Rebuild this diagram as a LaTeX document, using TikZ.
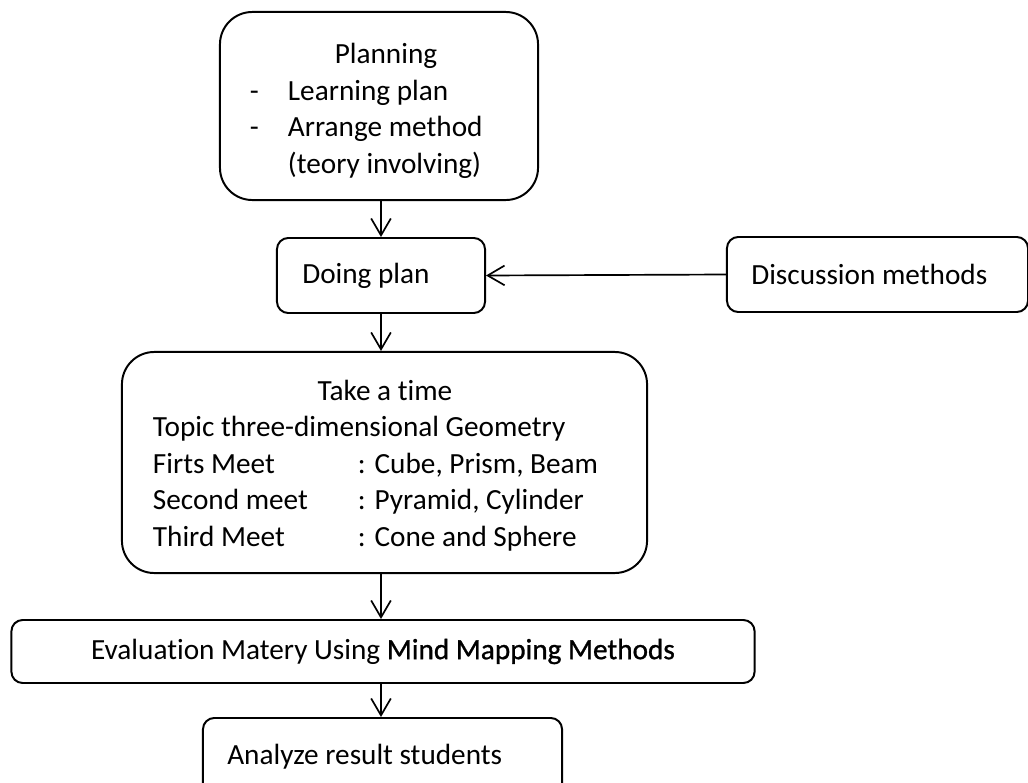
\documentclass[tikz,border=0pt]{standalone}
\usepackage{fontspec}
\setmainfont[Ligatures=NoCommon]{Carlito}
\newfontfamily\strongfont[Ligatures=NoCommon,FakeBold=1]{Carlito}
\usetikzlibrary{arrows.meta}
\usetikzlibrary{positioning}

\begin{document}
\begin{tikzpicture}[x=0.025cm,y=-0.025cm,
		box/.style={draw,line width=1.4pt,rounded corners=8pt,inner sep=0pt},
		bigbox/.style={draw,line width=1.4pt,rounded corners=23pt,inner sep=0pt},
		txt/.style={font=\fontsize{20.8}{26}\selectfont,inner sep=0pt},
		flow/.style={-{Straight Barb[length=12pt,width=14pt,line width=1.2pt]},line width=1.2pt}]
		\clip (0,0) rectangle (1028,783);
		% boxes
		\node[bigbox,minimum width=7.95cm,minimum height=4.7cm] (planning) at (379,106){};
		\node[txt] (planningtxt) at (386,111){%
			\begin{tabular}{@{}p{0.95cm}@{}p{5.85cm}@{}}
				\multicolumn{2}{@{}c@{}}{Planning}\\
				- & Learning plan\\
				- & Arrange method\\
				& (teory involving)
			\end{tabular}};
		\node[box,minimum width=5.2cm,minimum height=1.875cm] (doing) at (381,275.5){};
		\node[txt,anchor=west] (doingtxt) at ([xshift=0.65cm]doing.west){Doing plan};
		\node[box,minimum width=7.525cm,minimum height=1.875cm] (discuss) at (877.5,274.5){};
		\node[txt,anchor=west] (discusstxt) at ([xshift=0.625cm]discuss.west){Discussion methods};
		\node[bigbox,minimum width=13.125cm,minimum height=5.525cm] (take) at (384.5,462.5){};
		\node[txt] (taketxt) at (385,466){%
			\begin{tabular}{@{}p{5.125cm}@{}p{6.475cm}@{}}
				\multicolumn{2}{@{}c@{}}{Take a time}\\
				\multicolumn{2}{@{}l@{}}{Topic three-dimensional Geometry}\\
				Firts Meet & : Cube, Prism, Beam\\
				Second meet & : Pyramid, Cylinder\\
				Third Meet & : Cone and Sphere
			\end{tabular}};
		\node[box,txt,minimum width=18.575cm,minimum height=1.575cm] (eval) at (383,651.5){Evaluation Matery Using {\strongfont Mind Mapping Methods}};
		\node[box,minimum width=8.975cm,minimum height=1.925cm] (analyze) at (382.5,756.5){};
		\node[txt,anchor=west] (analyzetxt) at ([xshift=0.625cm]analyze.west){Analyze result students};
		% arrows
		\draw[flow] (doing.north |- planning.south)--(doing.north);
		\draw[flow] (doing.south)--(doing.south |- take.north);
		\draw[flow] (discuss.west)--(doing.east);
		\draw[flow] (doing.south |- take.south)--(doing.south |- eval.north);
		\draw[flow] (doing.south |- eval.south)--(doing.south |- analyze.north);
	\end{tikzpicture}
\end{document}
